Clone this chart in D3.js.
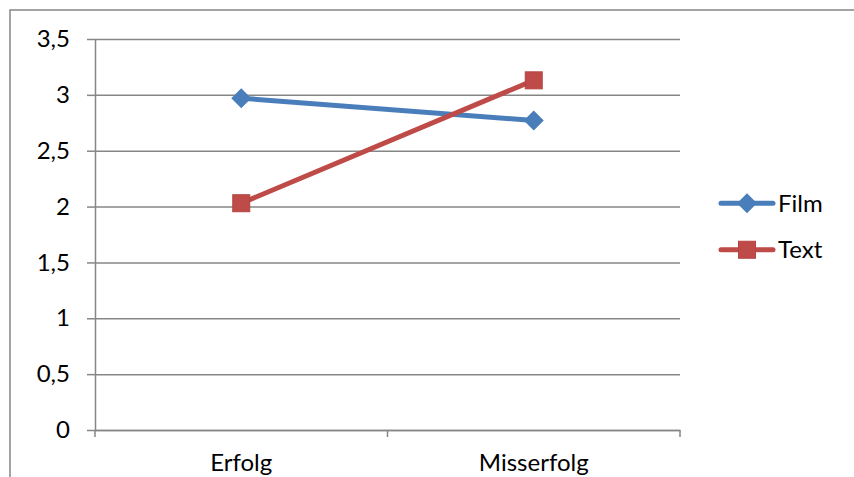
<!DOCTYPE html>
<html><head><meta charset="utf-8">
<script src="https://cdn.jsdelivr.net/npm/d3@7"></script>
<style>body{margin:0;background:#fff;}svg{display:block;font-family:Lato,"Open Sans",sans-serif;}</style>
</head><body>
<svg id="c" width="854" height="477"></svg>
<script>
const categories = ["Erfolg", "Misserfolg"];
const seriesNames = ["Film", "Text"];
const filmValues = [2.97, 2.77];
const textValues = [2.03, 3.13];
const yTicks = [0, 0.5, 1, 1.5, 2, 2.5, 3, 3.5];
const yTickLabels = ["0", "0,5", "1", "1,5", "2", "2,5", "3", "3,5"];

const colors = {Film: "#4A7EBB", Text: "#BE4B48"};
const svg = d3.select("#c");
const m = {left: 95, right: 680, top: 39, bottom: 430};
const grid = "#868686";
const fs = 24;

// outer chart border
svg.append("rect").attr("x", 10).attr("y", 10).attr("width", 900).attr("height", 600)
  .attr("fill", "none").attr("stroke", grid).attr("stroke-width", 1.5);

const x = d3.scaleBand().domain(categories).range([m.left, m.right]);
const y = d3.scaleLinear().domain([0, 3.5]).range([m.bottom, m.top]);

// y axis with gridlines
const yAxis = d3.axisLeft(y).tickValues(yTicks)
  .tickFormat((d, i) => yTickLabels[i]).tickSize(8).tickSizeOuter(0);
const gy = svg.append("g").attr("transform", `translate(${m.left},0)`).call(yAxis);
gy.selectAll(".tick line").attr("stroke", grid).attr("stroke-width", 1.5);
gy.selectAll(".tick").append("line").attr("x1", 0).attr("x2", m.right - m.left)
  .attr("stroke", grid).attr("stroke-width", 1.5);
gy.select(".domain").attr("stroke", grid).attr("stroke-width", 1.5);
gy.selectAll(".tick text").attr("x", -25).attr("font-size", fs).attr("fill", "#000")
  .attr("font-family", "Lato");

// x axis
const xAxis = d3.axisBottom(x).tickSize(0).tickSizeOuter(0);
const gx = svg.append("g").attr("transform", `translate(0,${m.bottom})`).call(xAxis);
gx.select(".domain").attr("stroke", grid).attr("stroke-width", 1.5);
gx.selectAll(".tick text").attr("y", 41).attr("dy", 0).attr("font-size", fs)
  .attr("fill", "#000").attr("font-family", "Lato");
// category boundary ticks
const bounds = categories.map(c => x(c)).concat([x(categories[categories.length - 1]) + x.bandwidth()]);
gx.selectAll(".bt").data(bounds).enter().append("line")
  .attr("x1", d => d).attr("x2", d => d).attr("y1", 0).attr("y2", 7)
  .attr("stroke", grid).attr("stroke-width", 1.5);

const cx = c => x(c) + x.bandwidth() / 2;
const line = d3.line().x((d, i) => cx(categories[i])).y(d => y(d));
const data = {Film: filmValues, Text: textValues};

function marker(g, name, px, py) {
  if (name === "Film") {
    const s = 10;
    g.append("path").attr("d", `M${px},${py - s}L${px + s},${py}L${px},${py + s}L${px - s},${py}Z`)
      .attr("fill", colors.Film);
  } else {
    const s = 17;
    g.append("rect").attr("x", px - s / 2).attr("y", py - s / 2).attr("width", s).attr("height", s)
      .attr("fill", colors.Text).attr("stroke", "#B54542").attr("stroke-width", 1);
  }
}

seriesNames.forEach(name => {
  const g = svg.append("g");
  g.append("path").datum(data[name]).attr("d", line).attr("fill", "none")
    .attr("stroke", colors[name]).attr("stroke-width", 5).attr("stroke-linecap", "round");
  data[name].forEach((v, i) => marker(g, name, cx(categories[i]), y(v)));
});

// legend
const ly = d3.scaleBand().domain(seriesNames).range([180, 273]);
seriesNames.forEach(name => {
  const yy = ly(name) + ly.bandwidth() / 2;
  const g = svg.append("g");
  g.append("line").attr("x1", 721).attr("x2", 773).attr("y1", yy).attr("y2", yy)
    .attr("stroke", colors[name]).attr("stroke-width", 5).attr("stroke-linecap", "round");
  marker(g, name, 747, yy);
  g.append("text").attr("x", 778).attr("y", yy).attr("dy", "0.35em").attr("font-size", fs)
    .attr("fill", "#000").text(name);
});
</script>
</body></html>
